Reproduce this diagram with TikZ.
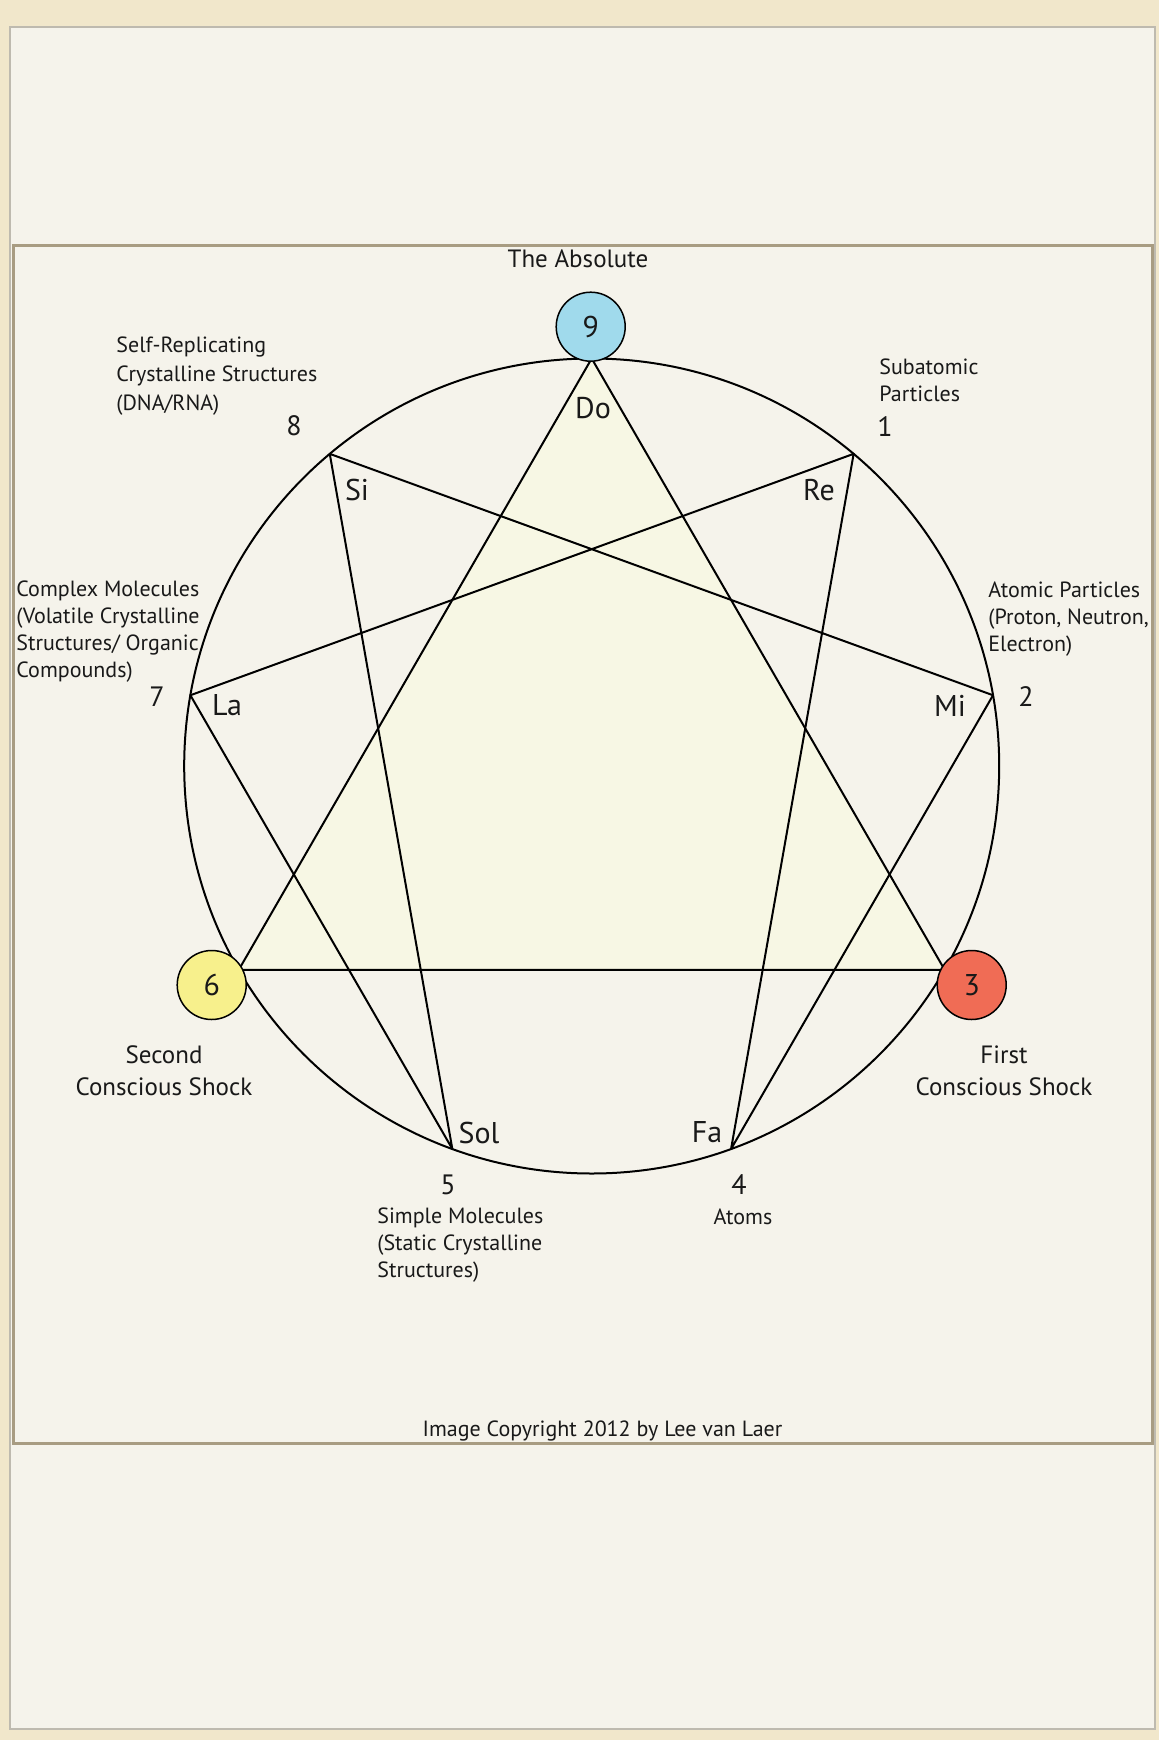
\documentclass[tikz,border=0pt]{standalone}
\usepackage{fontspec}
\setmainfont{PT Sans}
\definecolor{cream}{RGB}{241,231,203}
\definecolor{paper}{RGB}{245,243,235}
\definecolor{paperedge}{RGB}{190,186,175}
\definecolor{framebrown}{RGB}{168,156,130}
\definecolor{trifill}{RGB}{247,247,228}
\definecolor{nineblue}{RGB}{160,218,236}
\definecolor{sixyellow}{RGB}{247,240,140}
\definecolor{threered}{RGB}{240,108,85}
\definecolor{ink}{RGB}{25,25,25}
\begin{document}
\begin{tikzpicture}[x=0.5pt,y=-0.5pt,
  smalllbl/.style={font=\fontsize{11}{13.5}\selectfont, text=ink, align=left, anchor=west, inner sep=0pt},
  biglbl/.style={font=\fontsize{12.5}{15.8}\selectfont, text=ink, align=center, inner sep=0pt},
  numlbl/.style={font=\fontsize{14}{16}\selectfont, text=ink, inner sep=0pt},
  notelbl/.style={font=\fontsize{15}{18}\selectfont, text=ink, inner sep=0pt},
  pointdot/.style={circle, draw=black, line width=0.75pt, minimum size=34.5pt, inner sep=0pt, text=ink, font=\fontsize{15}{17}\selectfont},
  figline/.style={draw=black, line width=1pt, line join=round}
]
\useasboundingbox (0,0) rectangle (1159,1740);
% background
\fill[cream] (0,0) rectangle (1159,1740);
\draw[paperedge, fill=paper, line width=1pt] (10,27) rectangle (1155,1729);
\draw[framebrown, line width=1.5pt] (13.5,245) rectangle (1152,1443);

% geometry
\coordinate (c) at (591.7,766);
\foreach \n/\a in {9/90,1/50,2/10,3/-30,4/-70,5/-110,6/-150,7/170,8/130}{
  \coordinate (p\n) at ({591.7+407.5*cos(\a)},{766-407.5*sin(\a)});
}
% triangle
\path[fill=trifill] (p9) -- (p3) -- (p6) -- cycle;
% circle
\draw[figline] (c) circle [radius=203.75pt];
% triangle edges
\draw[figline] (p9) -- (p3) -- (p6) -- cycle;
% hexad
\draw[figline] (p1) -- (p4) -- (p2) -- (p8) -- (p5) -- (p7) -- cycle;

% coloured points
\node[pointdot, fill=nineblue] (d9) at (590.7,326.7) {9};
\node[pointdot, fill=sixyellow] (d6) at (211.7,985) {6};
\node[pointdot, fill=threered] (d3) at (971.7,985) {3};

% notes
\node[notelbl] (nDo) at (593,408) {Do};
\node[notelbl] (nRe) at (819,490) {Re};
\node[notelbl] (nMi) at (950,706) {Mi};
\node[notelbl] (nFa) at (707,1132) {Fa};
\node[notelbl] (nSol) at (479,1133) {Sol};
\node[notelbl] (nLa) at (227,705) {La};
\node[notelbl] (nSi) at (357,490) {Si};

% numbers
\node[numlbl] (n8) at (294,426) {8};
\node[numlbl] (n1) at (885,427) {1};
\node[numlbl] (n7) at (157,697) {7};
\node[numlbl] (n2) at (1026,697) {2};
\node[numlbl] (n5) at (448,1185) {5};
\node[numlbl] (n4) at (739,1185) {4};

% big labels
\node[biglbl] (abs) at (578,259) {The Absolute};
\node[biglbl] (first) at (1004,1071) {First\\Conscious Shock};
\node[biglbl] (second) at (164,1071) {Second\\Conscious Shock};

% small labels
\node[smalllbl, font=\fontsize{11}{14.5}\selectfont] (l8) at (116,376) {Self-Replicating\\Crystalline Structures\\(DNA/RNA)};
\node[smalllbl] (l1) at (879,380) {Subatomic\\Particles};
\node[smalllbl] (l7) at (16,632) {Complex Molecules\\(Volatile Crystalline\\Structures/ Organic\\Compounds)};
\node[smalllbl] (l2) at (988,619) {Atomic Particles\\(Proton, Neutron,\\Electron)};
\node[smalllbl] (l5) at (377,1245) {Simple Molecules\\(Static Crystalline\\Structures)};
\node[smalllbl, anchor=center] (l4) at (743,1217) {Atoms};
\node[smalllbl, anchor=center] (copy) at (602.5,1431) {Image Copyright 2012 by Lee van Laer};
\end{tikzpicture}
\end{document}
